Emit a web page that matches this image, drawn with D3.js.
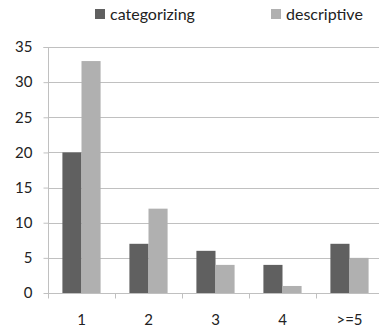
<!DOCTYPE html>
<html><head><meta charset="utf-8">
<script src="https://cdn.jsdelivr.net/npm/d3@7"></script>
<style>body{margin:0;background:#fff}svg{display:block}text{font-family:Lato,"Open Sans",sans-serif;fill:#222}</style>
</head><body><svg id="c" width="379" height="329"></svg>
<script>
const categories = ["1","2","3","4",">=5"];
const seriesNames = ["categorizing","descriptive"];
const categorizing = [20,7,6,4,7];
const descriptive = [33,12,4,1,5];
const yTicks = [0,5,10,15,20,25,30,35];
const colors = ["#606060","#b0b0b0"];

const svg = d3.select("#c");
const m = {l:48, t:47, r:383, b:293};
const x = d3.scaleBand().domain(categories).range([m.l, m.r]).paddingInner(0.43).paddingOuter(0.215);
const xs = d3.scaleBand().domain(seriesNames).range([0, x.bandwidth()]);
const y = d3.scaleLinear().domain([0,35]).range([m.b, m.t]);

// gridlines
svg.append("g").selectAll("line").data(yTicks.filter(d=>d>0)).join("line")
  .attr("x1", m.l).attr("x2", m.r).attr("y1", d=>Math.round(y(d))+0.5).attr("y2", d=>Math.round(y(d))+0.5)
  .attr("stroke","#c0c0c0");

// y axis
const ya = svg.append("g").attr("transform",`translate(${m.l+0.5},0)`)
  .call(d3.axisLeft(y).tickValues(yTicks).tickSize(5).tickPadding(11));
ya.select(".domain").attr("stroke","#c0c0c0").attr("d",`M-5,${Math.round(y(35))+0.5}H0V${m.b}`);
ya.selectAll(".tick line").attr("stroke","#c0c0c0");
ya.selectAll("text").style("font-size","15px").attr("fill","#222").style("font-family","Lato,'Open Sans',sans-serif");

// bars
const data = categories.map((c,i)=>({c, vals:[categorizing[i], descriptive[i]]}));
svg.append("g").selectAll("g").data(data).join("g")
  .attr("transform", d=>`translate(${x(d.c)},0)`)
  .selectAll("rect").data(d=>d.vals.map((v,j)=>({v, s:seriesNames[j], j}))).join("rect")
  .attr("x", d=>xs(d.s)).attr("width", xs.bandwidth())
  .attr("y", d=>y(d.v)).attr("height", d=>y(0)-y(d.v))
  .attr("fill", d=>colors[d.j]);

// x axis
const xa = svg.append("g").attr("transform",`translate(0,${m.b+0.5})`);
xa.append("line").attr("x1",m.l).attr("x2",m.r).attr("stroke","#c0c0c0");
const step = x.step();
xa.selectAll("line.t").data(d3.range(categories.length+1)).join("line").attr("class","t")
  .attr("x1", i=>Math.round(m.l + i*step)+0.5).attr("x2", i=>Math.round(m.l + i*step)+0.5)
  .attr("y1",0).attr("y2",5).attr("stroke","#c0c0c0");
xa.selectAll("text").data(categories).join("text")
  .attr("x", d=>x(d)+x.bandwidth()/2).attr("y", 31.5).attr("text-anchor","middle")
  .style("font-size","15px").text(d=>d);

// legend
const leg = svg.append("g");
const legX = [95, 271];
seriesNames.forEach((s,i)=>{
  leg.append("rect").attr("x",legX[i]).attr("y",9).attr("width",10).attr("height",10).attr("fill",colors[i]);
  leg.append("text").attr("x",legX[i]+15).attr("y",20).style("font-size","16px").text(s);
});
</script></body></html>
